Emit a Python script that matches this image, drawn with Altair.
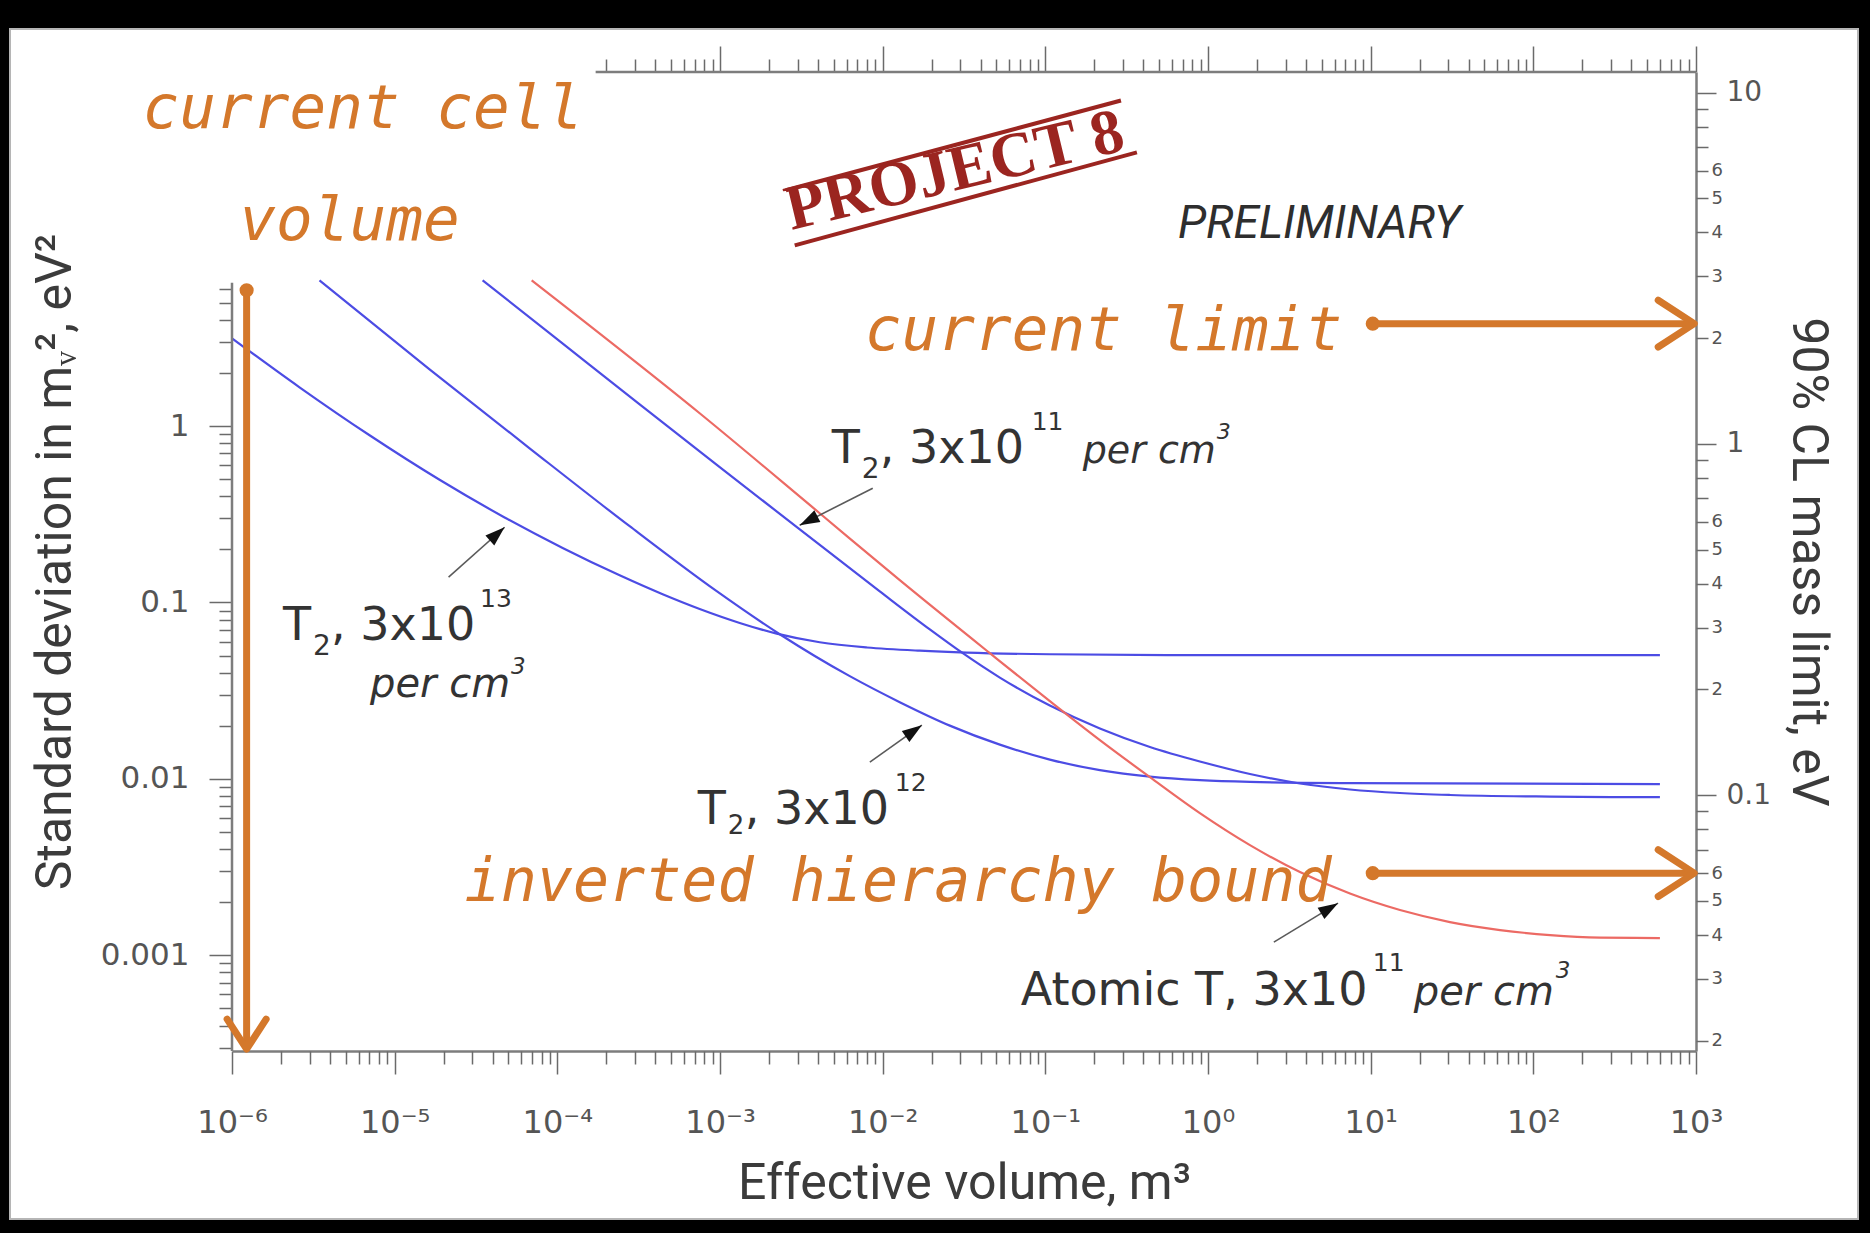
import altair as alt
import pandas as pd

# ---------------- values ----------------
series_names = ["T2, 3x10^13 per cm3", "T2, 3x10^12 per cm3",
                "T2, 3x10^11 per cm3", "Atomic T, 3x10^11 per cm3"]
series_colors = ["#4c4ce4", "#4c4ce4", "#4c4ce4", "#ec6a64"]

vol_t2_13 = [1.0e-6, 2.601e-6, 7.01e-6, 1.888e-5, 4.74e-5, 1.078e-4, 2.416e-4, 4.44e-4,
             7.50e-4, 1.322e-3, 2.232e-3, 4.10e-3, 7.99e-3, 0.01691, 0.0329, 0.1066,
             0.891, 600]
sig_t2_13 = [3.145, 1.659, 0.887, 0.4962, 0.3035, 0.2039, 0.1426, 0.1114,
             0.0919, 0.0766, 0.0666, 0.0595, 0.0556, 0.0533, 0.0520, 0.0509,
             0.0503, 0.0503]

vol_t2_12 = [3.45e-6, 1.639e-5, 6.754e-5, 2.784e-4, 9.543e-4, 2.330e-3, 6.277e-3, 0.01274,
             0.02587, 0.05252, 0.1066, 0.2164, 0.4395, 0.891, 1.811, 7.46, 600]
sig_t2_12 = [6.70, 2.098, 0.7485, 0.2706, 0.1159, 0.0661, 0.03824, 0.02723,
             0.02005, 0.01564, 0.01286, 0.01122, 0.01030, 0.00984, 0.00962, 0.00947, 0.00934]

vol_t2_11 = [3.47e-5, 1.033e-4, 3.208e-4, 9.96e-4, 3.093e-3, 9.60e-3, 0.01949, 0.03109,
             0.05252, 0.1066, 0.2164, 0.4395, 0.891, 1.811, 3.674, 7.46, 15.14, 30.7,
             126.7, 600]
sig_t2_11 = [6.70, 3.031, 1.329, 0.5857, 0.2596, 0.1156, 0.0704, 0.0516,
             0.03754, 0.02604, 0.01930, 0.01516, 0.01255, 0.01066, 0.00942, 0.00871,
             0.00832, 0.00811, 0.00794, 0.00788]

vol_atomic = [6.95e-5, 7.50e-4, 4.10e-3, 0.01274, 0.0456, 0.1066, 0.2164, 0.4395, 0.891,
              1.811, 3.674, 7.46, 15.14, 30.7, 62.4, 126.7, 257.2, 600]
sig_atomic = [6.70, 1.182, 0.3206, 0.1338, 0.0516, 0.02759, 0.01659, 0.01023, 0.006399,
              0.004215, 0.002965, 0.002239, 0.001806, 0.001544, 0.001391, 0.001303,
              0.001261, 0.001253]

x_domain = [1e-6, 1e3]
sigma_domain = [2.87e-4, 101.6]
mass_domain = [0.0187, 11.45]

x_label_exponents = [-6, -5, -4, -3, -2, -1, 0, 1, 2, 3]
x_label_texts = ["10⁻⁶", "10⁻⁵", "10⁻⁴", "10⁻³", "10⁻²", "10⁻¹", "10⁰", "10¹", "10²", "10³"]
sigma_label_exponents = [-3, -2, -1, 0]
sigma_label_texts = ["0.001", "0.01", "0.1", "1"]
mass_label_exponents = [-1, 0, 1]
mass_label_texts = ["0.1", "1", "10"]

x_major = [10.0 ** e for e in x_label_exponents]
x_minor = [m * 10.0 ** e for e in range(-6, 3) for m in range(2, 10)]
top_major = [v for v in x_major if v >= 1.9e-4]
top_minor = [v for v in x_minor if v >= 1.9e-4]
sigma_major = [10.0 ** e for e in sigma_label_exponents]
sigma_minor = [m * 10.0 ** e for e in range(-4, 1) for m in range(2, 10)
               if 2.9e-4 <= m * 10.0 ** e <= 6.5]
mass_major = [10.0 ** e for e in mass_label_exponents]
mass_minor = [m * 10.0 ** e for e in range(-2, 1) for m in range(2, 10)
              if m * 10.0 ** e >= 0.019]

left_axis_top_sigma = 6.5
top_axis_start_volume = 1.72e-4

# orange annotations
current_limit_eV = 2.2
ih_bound_eV = 0.06
cell_volume_m3 = 1.23e-6
cell_arrow_top_sigma = 5.88
cell_arrow_line_end_sigma = 3.15e-4
cell_arrow_tip_sigma = 2.94e-4
h_arrow_start_volume = 10.3
h_arrow_line_end_volume = 950
h_arrow_tip_volume = 975

# black pointer arrows
ptr_x_start = [2.145e-5, 8.34e-3, 8.69e-3, 2.54]
ptr_y_start = [0.1391, 0.01245, 0.4442, 1.188e-3]
ptr_x_tip = [4.74e-5, 0.01742, 3.09e-3, 6.30]
ptr_y_tip = [0.2671, 0.02018, 0.2742, 1.976e-3]
ptr_angle = [48, 55, 243, 59]

# stamp
stamp_line_x1 = [2.54e-3, 2.88e-3]
stamp_line_y1 = [21.7, 10.58]
stamp_line_x2 = [0.2917, 0.3656]
stamp_line_y2 = [70.0, 35.6]

# ---------------- styles ----------------
ORANGE = "#d4782b"
DARK = "#333333"
AXC = "#7d7d7d"
TICKC = "#6a6a6a"
RED_STAMP = "#9b2520"
LABEL_FONT = "DejaVu Sans"
TITLE_FONT = "Roboto"
HAND_FONT = "DejaVu Sans Mono"

XS = alt.Scale(type="log", domain=x_domain, nice=False)
YS = alt.Scale(type="log", domain=sigma_domain, nice=False)
MS = alt.Scale(type="log", domain=mass_domain, nice=False)


def chain(exps, texts):
    e = "round(log(datum.value)/LN10)"
    s = " : ".join(f"({e} == {x}) ? '{t}'" for x, t in zip(exps, texts))
    return s + " : ''"


DG = "round(datum.value / pow(10, floor(log(datum.value)/LN10 + 0.001)))"
minor_mass_expr = f"({DG}) <= 6 ? '' + ({DG}) : ''"

base_axis = dict(tickColor=TICKC, tickWidth=1.5, domainColor=AXC, domainWidth=2.5,
                 labelFont=LABEL_FONT, labelColor="#555555", labelOverlap=False,
                 labelFlush=False, grid=False, titleFont=TITLE_FONT,
                 titleFontWeight="normal", titleColor="#3b3b3b", titleFontSize=50)

x_axis_bottom = alt.Axis(orient="bottom", values=x_major,
                         labelExpr=chain(x_label_exponents, x_label_texts),
                         tickSize=23, labelFontSize=32, labelPadding=33,
                         title="Effective volume, m³", titlePadding=20, **base_axis)
x_axis_bottom_minor = alt.Axis(orient="bottom", values=x_minor, tickSize=13, labels=False,
                               domain=False, title="", **base_axis)
y_axis_left = alt.Axis(orient="left", values=sigma_major,
                       labelExpr=chain(sigma_label_exponents, sigma_label_texts),
                       domain=False, tickSize=23, labelFontSize=31, labelPadding=20,
                       title="Standard deviation in mᵥ², eV²", titlePadding=20, **base_axis)
y_axis_left_minor = alt.Axis(orient="left", values=sigma_minor, tickSize=13, labels=False,
                             domain=False, title="", **base_axis)
x_axis_top = alt.Axis(orient="top", values=top_major, labels=False, domain=False,
                      tickSize=26, title="", **base_axis)
x_axis_top_minor = alt.Axis(orient="top", values=top_minor, labels=False, domain=False,
                            tickSize=13, title="", **base_axis)
y_axis_right = alt.Axis(orient="right", values=mass_major,
                        labelExpr=chain(mass_label_exponents, mass_label_texts),
                        tickSize=20, labelFontSize=28, labelPadding=10,
                        labelBaseline="middle",
                        title="90% CL mass limit, eV", titlePadding=12, **base_axis)
y_axis_right_minor = alt.Axis(orient="right", values=mass_minor, labelExpr=minor_mass_expr,
                              tickSize=12, labelFontSize=18, labelPadding=3,
                              labelBaseline="middle", domain=False, title="", **base_axis)

# ---------------- layers ----------------
def band(x0, x1, y0, y1, **kw):
    return alt.Chart(pd.DataFrame({"k": [0]})).mark_rect(**kw).encode(
        x=alt.value(x0), x2=alt.value(x1), y=alt.value(y0), y2=alt.value(y1))


frame = [
    band(-232, 1638, -72, -43, color="#000000"),
    band(-232, -222, -72, 1161, color="#000000"),
    band(1626, 1638, -72, 1161, color="#000000"),
    band(-232, 1638, 1147, 1161, color="#000000"),
    band(-222, 1626, -43, 1147, fillOpacity=0, stroke="#b5b5b5", strokeWidth=2),
]

frames = []
for name, v, s in zip(series_names, [vol_t2_13, vol_t2_12, vol_t2_11, vol_atomic],
                      [sig_t2_13, sig_t2_12, sig_t2_11, sig_atomic]):
    frames.append(pd.DataFrame({"series": name, "volume": v, "sigma": s}))
curve_df = pd.concat(frames, ignore_index=True)


def sx(field):
    return alt.X(field, scale=XS, axis=None)


def sy(field):
    return alt.Y(field, scale=YS, axis=None)


curves = alt.Chart(curve_df).mark_line(strokeWidth=2.2, clip=True,
                                       interpolate="monotone").encode(
    x=sx("volume:Q"), y=sy("sigma:Q"),
    color=alt.Color("series:N", scale=alt.Scale(domain=series_names, range=series_colors),
                    legend=None),
    detail="series:N",
)

left_line = alt.Chart(pd.DataFrame({"x": [x_domain[0]], "y": [sigma_domain[0]],
                                    "y2": [left_axis_top_sigma]})).mark_rule(
    color=AXC, strokeWidth=2.5).encode(x=sx("x:Q"), y=sy("y:Q"), y2="y2:Q")
top_line = alt.Chart(pd.DataFrame({"x": [top_axis_start_volume], "x2": [x_domain[1]],
                                   "y": [sigma_domain[1]]})).mark_rule(
    color=AXC, strokeWidth=2.5).encode(x=sx("x:Q"), x2="x2:Q", y=sy("y:Q"))

stamp_df = pd.DataFrame({"x": stamp_line_x1, "y": stamp_line_y1,
                         "x2": stamp_line_x2, "y2": stamp_line_y2})
stamp_lines = alt.Chart(stamp_df).mark_rule(color=RED_STAMP, strokeWidth=4).encode(
    x=sx("x:Q"), y=sy("y:Q"), x2="x2:Q", y2="y2:Q")


def piece(x, y, text, size, dx=0, dy=0, italic=False, color=DARK, font=LABEL_FONT,
          align="left", baseline="alphabetic", angle=0, weight="normal"):
    df = pd.DataFrame({"x": [x], "y": [y], "t": [text]})
    kw = dict(align=align, baseline=baseline, dx=dx, dy=dy, fontSize=size, font=font,
              color=color, fontStyle="italic" if italic else "normal", fontWeight=weight)
    if angle:
        kw["angle"] = angle
    return alt.Chart(df).mark_text(**kw).encode(x=sx("x:Q"), y=sy("y:Q"), text="t:N")


L1 = (4.86e-3, 0.6155)
L2 = (2.06e-6, 0.0611)
L3 = (7.30e-4, 5.545e-3)
L4 = (0.0706, 5.22e-4)

texts = [
    piece(0.02775, 27.8, "PROJECT 8", 64, color=RED_STAMP, font="Liberation Serif",
          align="center", baseline="middle", angle=346.5, weight="bold"),
    piece(0.653, 11.6, "PRELIMINARY", 46, italic=True, font="Roboto", color="#2e2e2e"),
    # T2, 3x10^11 per cm3
    piece(*L1, "T", 46),
    piece(*L1, "2", 28, dx=30, dy=15),
    piece(*L1, ", 3x10", 46, dx=48),
    piece(*L1, "11", 25, dx=200, dy=-33),
    piece(*L1, "per cm", 38, dx=251, italic=True),
    piece(*L1, "3", 22, dx=385, dy=-24, italic=True),
    # T2, 3x10^13 per cm3
    piece(*L2, "T", 46),
    piece(*L2, "2", 28, dx=30, dy=15),
    piece(*L2, ", 3x10", 46, dx=48),
    piece(*L2, "13", 25, dx=197, dy=-33),
    piece(*L2, "per cm", 40, dx=87, dy=57, italic=True),
    piece(*L2, "3", 23, dx=228, dy=34, italic=True),
    # T2, 3x10^12
    piece(*L3, "T", 46),
    piece(*L3, "2", 26, dx=30, dy=10),
    piece(*L3, ", 3x10", 46, dx=47),
    piece(*L3, "12", 25, dx=197, dy=-33),
    # Atomic T, 3x10^11 per cm3
    piece(*L4, "Atomic T, 3x10", 46),
    piece(*L4, "11", 25, dx=352, dy=-34),
    piece(*L4, "per cm", 40, dx=393, italic=True),
    piece(*L4, "3", 23, dx=535, dy=-27, italic=True),
    # orange handwriting
    piece(2.82e-7, 48.7, "current cell", 61, italic=True, color=ORANGE, font=HAND_FONT),
    piece(1.11e-6, 11.3, "volume", 61, italic=True, color=ORANGE, font=HAND_FONT),
    piece(7.76e-3, 2.69, "current limit", 61, italic=True, color=ORANGE, font=HAND_FONT),
    piece(2.69e-5, 2.02e-3, "inverted hierarchy bound", 60, italic=True, color=ORANGE,
          font=HAND_FONT),
]

ptr_df = pd.DataFrame({"x": ptr_x_start, "y": ptr_y_start, "x2": ptr_x_tip,
                       "y2": ptr_y_tip, "angle": ptr_angle})
ptr_lines = alt.Chart(ptr_df).mark_rule(color="#5a5a5a", strokeWidth=1.6).encode(
    x=sx("x:Q"), y=sy("y:Q"), x2="x2:Q", y2="y2:Q")
ptr_heads = alt.Chart(ptr_df).mark_point(
    shape="M0,0L-0.5,1.5L0.5,1.5Z", filled=True, color="#111111", size=700,
    opacity=1).encode(x=sx("x2:Q"), y=sy("y2:Q"), angle=alt.Angle("angle:Q", scale=None))

cell_df = pd.DataFrame({"x": [cell_volume_m3], "top": [cell_arrow_top_sigma],
                        "end": [cell_arrow_line_end_sigma], "tip": [cell_arrow_tip_sigma]})
cell_line = alt.Chart(cell_df).mark_rule(color=ORANGE, strokeWidth=7,
                                         strokeCap="round").encode(
    x=sx("x:Q"), y=sy("top:Q"), y2="end:Q")
cell_dot = alt.Chart(cell_df).mark_point(shape="circle", filled=True, color=ORANGE, size=200,
                                         opacity=1).encode(x=sx("x:Q"), y=sy("top:Q"))
cell_head = alt.Chart(cell_df).mark_point(
    shape="M-0.65,-1L0,0L0.65,-1", filled=False, color=ORANGE, strokeWidth=7, size=3600,
    opacity=1, strokeCap="round", strokeJoin="round").encode(x=sx("x:Q"), y=sy("tip:Q"))

main = alt.layer(curves, left_line, top_line, stamp_lines, *texts, ptr_lines,
                 ptr_heads, cell_line, cell_dot, cell_head, *frame)

h_df = pd.DataFrame({"x": [h_arrow_start_volume] * 2, "x2": [h_arrow_line_end_volume] * 2,
                     "tip": [h_arrow_tip_volume] * 2, "m": [current_limit_eV, ih_bound_eV]})


def mx(field):
    return alt.X(field, scale=XS, axis=None)


def my(field):
    return alt.Y(field, scale=MS, axis=None)


h_rule = alt.Chart(h_df).mark_rule(color=ORANGE, strokeWidth=7, strokeCap="round").encode(
    x=mx("x:Q"), x2="x2:Q", y=my("m:Q"))
h_dot = alt.Chart(h_df).mark_point(shape="circle", filled=True, color=ORANGE, size=200,
                                   opacity=1).encode(x=mx("x:Q"), y=my("m:Q"))
h_head = alt.Chart(h_df).mark_point(
    shape="M-1,-0.65L0,0L-1,0.65", filled=False, color=ORANGE, strokeWidth=7, size=5184,
    opacity=1, strokeCap="round", strokeJoin="round").encode(x=mx("tip:Q"), y=my("m:Q"))
right = alt.layer(h_rule, h_dot, h_head)

# invisible carriers of the axes (one simple chart per pair of axes)
sig_major = alt.Chart(curve_df).mark_point(opacity=0).encode(
    x=alt.X("volume:Q", scale=XS, axis=x_axis_bottom),
    y=alt.Y("sigma:Q", scale=YS, axis=y_axis_left))
sig_minor = alt.Chart(curve_df).mark_point(opacity=0).encode(
    x=alt.X("volume:Q", scale=XS, axis=x_axis_bottom_minor),
    y=alt.Y("sigma:Q", scale=YS, axis=y_axis_left_minor))
mass_major_layer = alt.Chart(h_df).mark_point(opacity=0).encode(
    x=alt.X("x:Q", scale=XS, axis=x_axis_top),
    y=alt.Y("m:Q", scale=MS, axis=y_axis_right))
mass_minor_layer = alt.Chart(h_df).mark_point(opacity=0).encode(
    x=alt.X("x:Q", scale=XS, axis=x_axis_top_minor),
    y=alt.Y("m:Q", scale=MS, axis=y_axis_right_minor))

chart = alt.layer(main, right, sig_major, sig_minor, mass_major_layer,
                  mass_minor_layer).resolve_scale(
    y="independent").resolve_axis(x="independent", y="independent").properties(
    width=1464, height=979,
    padding={"left": 232, "top": 72, "right": 174, "bottom": 182},
    autosize=alt.AutoSizeParams(type="none"),
    background="#ffffff",
).configure_view(strokeWidth=0)

chart.save("out.html", embed_options={"renderer": "svg", "actions": False})
